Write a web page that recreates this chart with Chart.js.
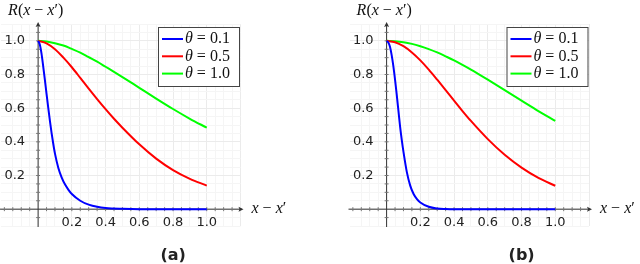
<!DOCTYPE html>
<html>
<head>
<meta charset="utf-8">
<script src="https://cdn.jsdelivr.net/npm/chart.js@4"></script>
<style>
  body { margin: 0; background: #fff; }
  .row { display: flex; width: 640px; height: 264px; }
  canvas { display: block; }
</style>
</head>
<body>
<div class="row">
  <canvas id="chartA" width="320" height="264"></canvas>
  <canvas id="chartB" width="320" height="264"></canvas>
</div>
<script>
// x positions
const xsBlue = [0, 0.01, 0.02, 0.03, 0.04, 0.05, 0.06, 0.07, 0.08, 0.09, 0.1, 0.12, 0.14, 0.16, 0.18, 0.2, 0.25, 0.3, 0.35, 0.4, 0.5, 0.6, 0.7, 0.8, 0.9, 1.0];
const xsWide = [0, 0.05, 0.1, 0.15, 0.2, 0.25, 0.3, 0.35, 0.4, 0.45, 0.5, 0.6, 0.7, 0.8, 0.9, 1.0];

// panel (a)
const blueA = [1.0, 0.978, 0.925, 0.85, 0.77, 0.685, 0.603, 0.525, 0.452, 0.387, 0.33, 0.245, 0.188, 0.146, 0.115, 0.09, 0.05, 0.027, 0.014, 0.007, 0.002, 0, 0, 0, 0, 0];
const redA = [1.0, 0.985, 0.95, 0.9, 0.843, 0.78, 0.716, 0.654, 0.594, 0.537, 0.484, 0.385, 0.3, 0.232, 0.18, 0.14];
const greenA = [1.0, 0.996, 0.986, 0.972, 0.952, 0.93, 0.903, 0.876, 0.846, 0.816, 0.785, 0.721, 0.657, 0.595, 0.537, 0.484];

// panel (b)
const blueB = [1.0, 0.99, 0.965, 0.915, 0.85, 0.77, 0.68, 0.585, 0.49, 0.41, 0.34, 0.22, 0.14, 0.09, 0.06, 0.04, 0.014, 0.004, 0.001, 0, 0, 0, 0, 0, 0, 0];
const redB = [1.0, 0.992, 0.968, 0.931, 0.884, 0.829, 0.769, 0.707, 0.645, 0.583, 0.524, 0.416, 0.323, 0.247, 0.186, 0.139];
const greenB = [1.0, 0.998, 0.992, 0.982, 0.968, 0.951, 0.931, 0.908, 0.884, 0.857, 0.829, 0.769, 0.707, 0.645, 0.583, 0.524];

const seriesNames = ['0.1', '0.5', '1.0'];
const seriesColors = ['#0000ff', '#ff0000', '#00ff00'];
const tickValues = [0.2, 0.4, 0.6, 0.8, 1.0];
const tickLabels = ['0.2', '0.4', '0.6', '0.8', '1.0'];

const MATH = '16px "Liberation Serif"';
const MATH_IT = 'italic 16px "Liberation Serif"';

function toPoints(xs, ys) {
  return xs.map((x, i) => ({ x: x, y: ys[i] }));
}

// draws a list of [text, font] runs starting at x
function drawRuns(ctx, runs, x, y) {
  ctx.textAlign = 'left';
  ctx.textBaseline = 'middle';
  runs.forEach(r => {
    ctx.font = r[1];
    ctx.fillText(r[0], x, y);
    x += ctx.measureText(r[0]).width;
  });
}

function onStep(v, step) {
  const k = v / step;
  return Math.abs(k - Math.round(k)) < 1e-6;
}

const decoPlugin = {
  id: 'deco',
  beforeDraw(chart) {
    const ctx = chart.ctx;
    ctx.save();
    ctx.fillStyle = '#fff';
    ctx.fillRect(0, 0, chart.width, chart.height);
    ctx.restore();
  },
  beforeDatasetsDraw(chart) {
    const ctx = chart.ctx;
    const xs = chart.scales.x, ys = chart.scales.y;
    const area = chart.chartArea;
    const ox = xs.getPixelForValue(0), oy = ys.getPixelForValue(0);
    ctx.save();
    ctx.strokeStyle = '#333';
    ctx.fillStyle = '#333';
    ctx.lineWidth = 1;

    // axis lines
    ctx.beginPath();
    ctx.moveTo(area.left - 1, oy);
    ctx.lineTo(area.right + 1, oy);
    ctx.moveTo(ox, area.bottom + 1);
    ctx.lineTo(ox, area.top + 1);
    ctx.stroke();

    // arrow heads
    ctx.beginPath();
    ctx.moveTo(area.right + 3, oy);
    ctx.lineTo(area.right - 2, oy - 2.5);
    ctx.lineTo(area.right - 1, oy);
    ctx.lineTo(area.right - 2, oy + 2.5);
    ctx.closePath();
    ctx.fill();
    ctx.beginPath();
    ctx.moveTo(ox, area.top - 2);
    ctx.lineTo(ox - 2.5, area.top + 3);
    ctx.lineTo(ox, area.top + 2);
    ctx.lineTo(ox + 2.5, area.top + 3);
    ctx.closePath();
    ctx.fill();

    // small ticks on the axes
    ctx.strokeStyle = '#777';
    ctx.beginPath();
    for (let i = -4; i <= 23; i++) {
      const v = i * 0.05;
      if (i === 0) continue;
      const px = xs.getPixelForValue(v);
      if (px > area.left && px < area.right - 3) {
        ctx.moveTo(px, oy - 2);
        ctx.lineTo(px, oy + 2);
      }
      const py = ys.getPixelForValue(v);
      if (py < area.bottom && py > area.top + 3) {
        ctx.moveTo(ox - 2, py);
        ctx.lineTo(ox + 2, py);
      }
    }
    ctx.stroke();

    // tick labels
    ctx.fillStyle = '#222';
    ctx.font = '13px "DejaVu Sans"';
    ctx.textBaseline = 'middle';
    tickValues.forEach((v, i) => {
      ctx.textAlign = 'center';
      ctx.fillText(tickLabels[i], xs.getPixelForValue(v), oy + 13);
      ctx.textAlign = 'right';
      ctx.fillText(tickLabels[i], ox - 13, ys.getPixelForValue(v));
    });

    // axis titles
    ctx.fillStyle = '#111';
    drawRuns(ctx, [['R', MATH_IT], ['(', MATH], ['x', MATH_IT], [' \u2212 ', MATH], ['x', MATH_IT], ['\u2032', MATH], [')', MATH]], ox - 30, area.top - 13);
    drawRuns(ctx, [['x', MATH_IT], [' \u2212 ', MATH], ['x', MATH_IT], ['\u2032', MATH]], area.right + 11, oy);
    ctx.restore();
  },
  afterDatasetsDraw(chart, args, opts) {
    const ctx = chart.ctx;
    const area = chart.chartArea;
    const ox = chart.scales.x.getPixelForValue(0);
    ctx.save();

    // legend box
    const bw = 81, bh = 59;
    const bx = area.right - 1.5 - bw, by = area.top + 3;
    ctx.fillStyle = '#fff';
    ctx.fillRect(bx, by, bw, bh);
    ctx.strokeStyle = '#444';
    ctx.lineWidth = 1;
    ctx.strokeRect(bx + 0.5, by + 0.5, bw, bh);
    chart.data.datasets.forEach((ds, i) => {
      const ly = by + 12 + i * 17.3;
      ctx.strokeStyle = ds.borderColor;
      ctx.lineWidth = 2;
      ctx.beginPath();
      ctx.moveTo(bx + 4, ly);
      ctx.lineTo(bx + 25, ly);
      ctx.stroke();
      ctx.fillStyle = '#111';
      drawRuns(ctx, [['\u03b8', MATH_IT], [' = ' + seriesNames[i], MATH]], bx + 27, ly);
    });

    // caption
    ctx.fillStyle = '#222';
    ctx.font = 'bold 16px "DejaVu Sans"';
    ctx.textAlign = 'center';
    ctx.textBaseline = 'middle';
    ctx.fillText(opts.caption, ox + 135, 256);
    ctx.restore();
  }
};

function gridColor(c) {
  const v = c.tick ? c.tick.value : 0;
  if (!onStep(v, 0.05)) return 'rgba(0,0,0,0)';
  return onStep(v, 0.2) ? '#ebebeb' : '#f5f5f5';
}

function makeChart(id, blue, red, green, padLeft, padRight, caption) {
  const ctx = document.getElementById(id).getContext('2d');
  return new Chart(ctx, {
    type: 'line',
    data: {
      datasets: [blue, red, green].map((d, i) => ({
        label: '\u03b8 = ' + seriesNames[i],
        data: toPoints(i === 0 ? xsBlue : xsWide, d),
        borderColor: seriesColors[i],
        backgroundColor: seriesColors[i],
        borderWidth: 2,
        pointRadius: 0,
        fill: false,
        cubicInterpolationMode: 'monotone'
      }))
    },
    options: {
      responsive: false,
      animation: false,
      devicePixelRatio: 1,
      layout: { padding: { left: padLeft, right: padRight, top: 24, bottom: 38 } },
      scales: {
        x: {
          type: 'linear',
          min: -0.22,
          max: 1.2,
          ticks: { display: false, stepSize: 0.05 },
          grid: { color: gridColor, drawTicks: false, lineWidth: 1 },
          border: { display: false }
        },
        y: {
          type: 'linear',
          min: -0.1,
          max: 1.1,
          ticks: { display: false, stepSize: 0.05 },
          grid: { color: gridColor, drawTicks: false, lineWidth: 1 },
          border: { display: false }
        }
      },
      plugins: {
        legend: { display: false },
        tooltip: { enabled: false },
        deco: { caption: caption }
      }
    },
    plugins: [decoPlugin]
  });
}

makeChart('chartA', blueA, redA, greenA, 1, 79.5, '(a)');
makeChart('chartB', blueB, redB, greenB, 29.5, 51, '(b)');
</script>
</body>
</html>
